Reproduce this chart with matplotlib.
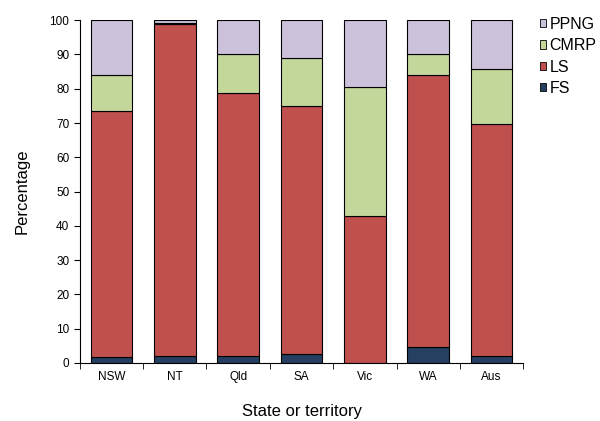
import numpy as np
import matplotlib
matplotlib.use("Agg")
import matplotlib.pyplot as plt
from matplotlib.patches import Patch

plt.rcParams['font.family'] = ['Liberation Sans', 'DejaVu Sans']

states = ["NSW", "NT", "Qld", "SA", "Vic", "WA", "Aus"]
fs = [1.7, 2.1, 1.9, 2.7, 0.0, 4.6, 2.0]
ls = [71.8, 96.7, 76.8, 72.3, 43.0, 79.3, 67.7]
cmrp = [10.4, 0.3, 11.5, 13.9, 37.6, 6.1, 16.2]
ppng = [16.1, 0.9, 9.8, 11.1, 19.4, 10.0, 14.1]

series = [("FS", fs, "#254061"), ("LS", ls, "#C0504D"),
          ("CMRP", cmrp, "#C4D79B"), ("PPNG", ppng, "#CCC1DA")]

fig = plt.figure(figsize=(6, 4.21), dpi=100)
ax = fig.add_axes([0.133, 0.138, 0.739, 0.814])

x = np.arange(len(states))
bottom = np.zeros(len(states))
for name, vals, col in series:
    ax.bar(x, vals, 0.66, bottom=bottom, color=col, edgecolor="black", linewidth=0.8, label=name)
    bottom += np.array(vals)

ax.set_xlim(-0.5, len(states) - 0.5)
ax.set_ylim(0, 100)
ax.set_yticks(np.arange(0, 101, 10))
ax.set_xticks(x)
ax.set_xticklabels(states)
ax.set_xticks(np.arange(-0.5, len(states)), minor=True)
ax.tick_params(axis="x", which="major", length=0, labelsize=8.5, pad=6)
ax.tick_params(axis="x", which="minor", length=4, direction="out")
ax.tick_params(axis="y", length=4, direction="out", labelsize=8.5)
for s in ["top", "right"]:
    ax.spines[s].set_visible(False)

ax.set_ylabel("Percentage", fontsize=12, labelpad=14)
ax.set_xlabel("State or territory", fontsize=12, labelpad=15)

handles = [Patch(facecolor=c, edgecolor="black", linewidth=0.6, label=n) for n, v, c in series[::-1]]
fig.legend(handles=handles, loc="upper left", bbox_to_anchor=(0.9, 0.96), frameon=False,
           fontsize=11.5, handlelength=0.4, handleheight=0.4, handletextpad=0.2, labelspacing=0.4,
           borderaxespad=0, borderpad=0)

fig.savefig("out.png", dpi=100)
